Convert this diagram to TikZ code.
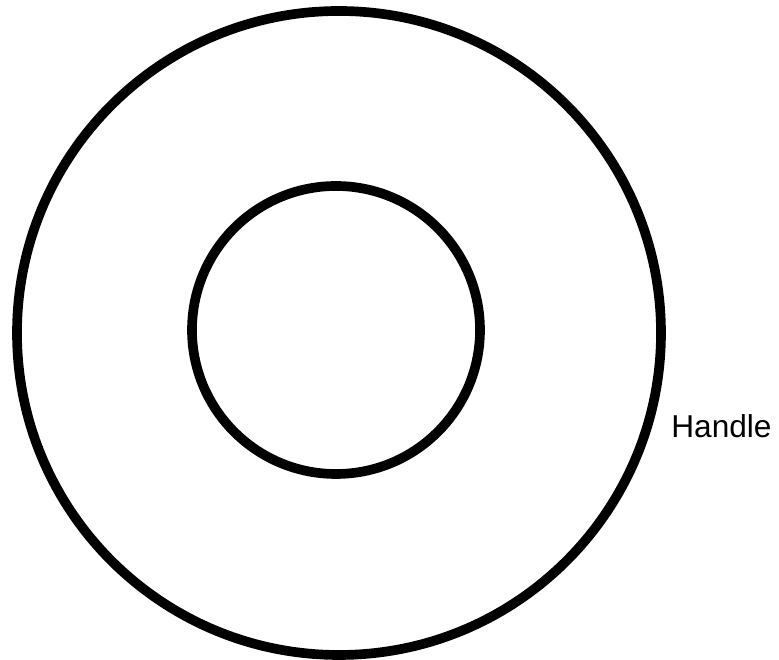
\documentclass[tikz,border=0pt]{standalone}
\usepackage{fontspec}
\setmainfont{Liberation Sans}
\usepackage{tkz-euclide}
\definecolor{RingClr}{rgb}{0,0,0}

\begin{document}
\begin{tikzpicture}
\useasboundingbox (0,0) rectangle (15.58,13.2);
\tkzSetUpLine[line width=5.5pt,color=RingClr]

\tkzDefPoints{6.78/6.54/O,13.22/6.54/A,6.72/6.60/I,9.60/6.60/B}

\tkzDrawCircle[line width=5.5pt,color=RingClr](O,A)
\tkzDrawCircle[line width=5.5pt,color=RingClr](I,B)

\node[anchor=base west,inner sep=0pt,font=\fontsize{18}{21}\selectfont] (handle) at (13.42,4.44) {Handle};

\end{tikzpicture}
\end{document}
